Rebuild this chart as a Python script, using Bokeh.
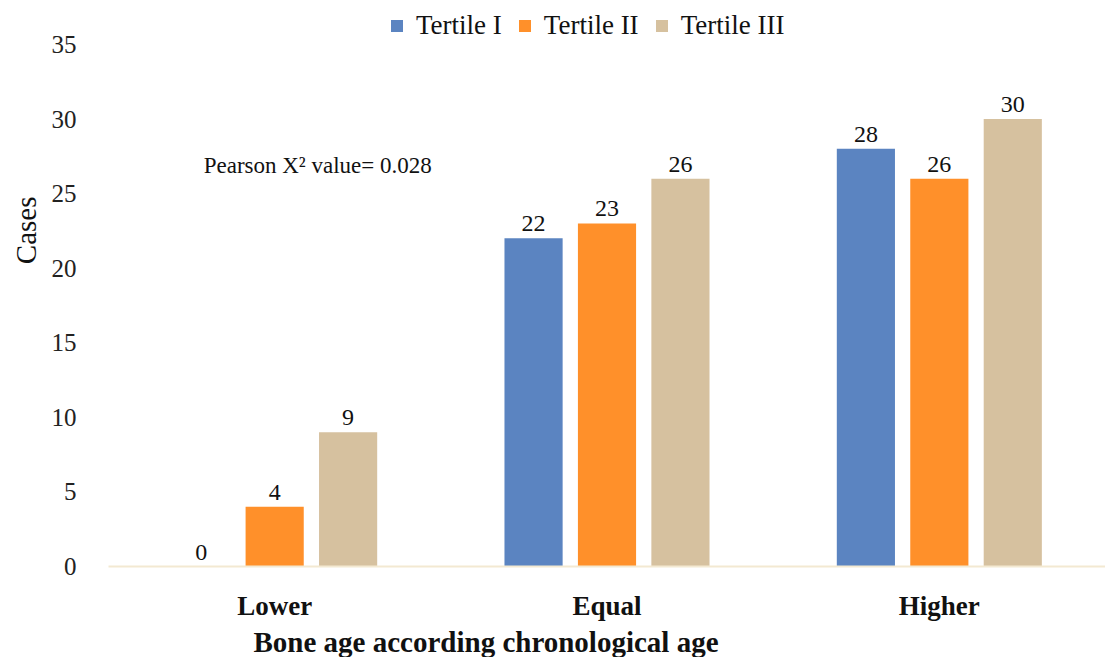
from bokeh.plotting import figure
from bokeh.models import ColumnDataSource, FactorRange, Range1d, FixedTicker, Legend, LegendItem, Title
from bokeh.transform import dodge
from bokeh.core.properties import value
from bokeh.embed import file_html
from bokeh.resources import INLINE

categories = ["Lower", "Equal", "Higher"]
series_names = ["Tertile I", "Tertile II", "Tertile III"]
tertile_1 = [0, 22, 28]
tertile_2 = [4, 23, 26]
tertile_3 = [9, 26, 30]
y_ticks = [0, 5, 10, 15, 20, 25, 30, 35]
colors = ["#5b84c1", "#ff902a", "#d6c19f"]
note_text = "Pearson X\u00b2 value= 0.028"
x_title = "Bone age according chronological age"
y_title = "Cases"

FONT = "Liberation Serif"

src = ColumnDataSource(dict(cat=categories, t1=tertile_1, t2=tertile_2, t3=tertile_3,
                            l1=[str(v) for v in tertile_1],
                            l2=[str(v) for v in tertile_2],
                            l3=[str(v) for v in tertile_3]))

p = figure(x_range=FactorRange(*categories, range_padding=0), y_range=Range1d(0, 37.41),
           frame_width=997, frame_height=558, output_backend="svg", toolbar_location=None,
           min_border_left=108, min_border_right=0, min_border_top=8, min_border_bottom=0)
p.outline_line_color = None
p.xgrid.grid_line_color = None
p.ygrid.grid_line_color = None

offsets = [-0.221, 0.0, 0.221]
bw = 0.175
renderers = []
for i, (col, lab) in enumerate([("t1", "l1"), ("t2", "l2"), ("t3", "l3")]):
    r = p.vbar(x=dodge("cat", offsets[i], range=p.x_range), top=col, width=bw, source=src,
               fill_color=colors[i], line_color=None)
    renderers.append(r)
    p.text(x=dodge("cat", offsets[i], range=p.x_range), y=col, text=lab, source=src,
           text_align="center", text_baseline="bottom", y_offset=-7,
           text_font=value(FONT), text_font_size="24px", text_color="#111111")

# note
p.text(x=["Lower"], y=[26.9], text=[note_text], x_offset=-71, text_align="left",
       text_baseline="middle", text_font=value(FONT), text_font_size="23px", text_color="#111111")

# axes
p.yaxis.ticker = FixedTicker(ticks=y_ticks)
p.yaxis.axis_line_color = None
p.yaxis.major_tick_line_color = None
p.yaxis.minor_tick_line_color = None
p.yaxis.major_label_text_font = FONT
p.yaxis.major_label_text_font_size = "25px"
p.yaxis.major_label_text_color = "#222222"
p.yaxis.major_label_standoff = 26

p.xaxis.axis_line_color = "#f3e9d2"
p.xaxis.axis_line_width = 2
p.xaxis.major_tick_line_color = None
p.xaxis.minor_tick_line_color = None
p.xaxis.major_label_text_font = FONT
p.xaxis.major_label_text_font_size = "27px"
p.xaxis.major_label_text_font_style = "bold"
p.xaxis.major_label_text_color = "#111111"
p.xaxis.major_label_standoff = 18

p.add_layout(Title(text=x_title, align="left", offset=145, standoff=0, text_font=FONT,
                   text_font_size="29px", text_font_style="bold", text_color="#111111"), "below")
p.add_layout(Title(text=y_title, align="right", offset=188, standoff=13, text_font=FONT,
                   text_font_size="29px", text_font_style="normal", text_color="#111111"), "left")

legend = Legend(items=[LegendItem(label=series_names[i], renderers=[renderers[i]]) for i in range(3)],
                orientation="horizontal", location=(281, 524), margin=0, padding=0,
                glyph_width=15, glyph_height=15, label_standoff=12, spacing=15,
                label_text_font=FONT, label_text_font_size="27px", label_height=34,
                label_text_color="#111111", border_line_color=None, background_fill_alpha=0)
p.add_layout(legend)

open("out.html", "w").write(file_html(p, INLINE))
